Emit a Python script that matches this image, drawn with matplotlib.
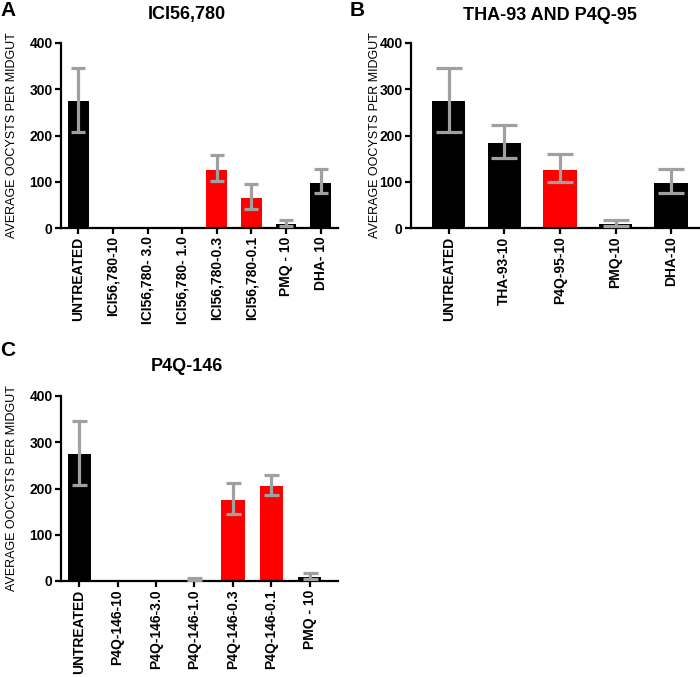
import numpy as np
import matplotlib
matplotlib.use("Agg")
import matplotlib.pyplot as plt

plt.rcParams['font.family'] = ['Liberation Sans', 'DejaVu Sans']

# panel A
a_labels = ['UNTREATED', 'ICI56,780-10', 'ICI56,780- 3.0', 'ICI56,780- 1.0',
            'ICI56,780-0.3', 'ICI56,780-0.1', 'PMQ - 10', 'DHA- 10']
a_means = [275, 0, 0, 0, 125, 65, 9, 98]
a_err_lo = [67, 0, 0, 0, 24, 23, 4, 22]
a_err_hi = [72, 0, 0, 0, 32, 30, 8, 30]
a_colors = ['black', 'black', 'black', 'black', 'red', 'red', 'black', 'black']

# panel B
b_labels = ['UNTREATED', 'THA-93-10', 'P4Q-95-10', 'PMQ-10', 'DHA-10']
b_means = [275, 183, 125, 9, 98]
b_err_lo = [67, 32, 26, 4, 22]
b_err_hi = [72, 40, 34, 9, 30]
b_colors = ['black', 'black', 'red', 'black', 'black']

# panel C
c_labels = ['UNTREATED', 'P4Q-146-10', 'P4Q-146-3.0', 'P4Q-146-1.0',
            'P4Q-146-0.3', 'P4Q-146-0.1', 'PMQ - 10']
c_means = [275, 0, 0, 1, 175, 205, 9]
c_err_lo = [67, 0, 0, 1, 30, 20, 4]
c_err_hi = [72, 0, 0, 6, 36, 25, 9]
c_colors = ['black', 'black', 'black', 'black', 'red', 'red', 'black']

W, H = 700, 677
fig = plt.figure(figsize=(W / 100, H / 100), dpi=100)


def panel(rect, labels, means, lo, hi, colors, title, letter, xlim, capsize,
          title_xy, letter_xy, ylab_px):
    ax = fig.add_axes(rect)
    x = np.arange(len(labels))
    ax.bar(x, means, width=0.6, color=colors, edgecolor='none', zorder=2)
    # only draw error bars where there is something to show
    m = np.array([(mv > 0 or h > 0) for mv, h in zip(means, hi)])
    ax.errorbar(x[m], np.array(means)[m],
                yerr=[np.array(lo)[m], np.array(hi)[m]],
                fmt='none', ecolor='#a0a0a0', elinewidth=2.3, capsize=capsize,
                capthick=2.3, zorder=3)
    ax.set_ylim(0, 400)
    ax.set_xlim(*xlim)
    ax.set_yticks([0, 100, 200, 300, 400])
    ax.set_xticks(x)
    ax.set_xticklabels(labels, rotation=90, fontsize=10, fontweight='bold')
    for t in ax.get_yticklabels():
        t.set_fontweight('bold')
        t.set_fontsize(10)
    for s in ['top', 'right']:
        ax.spines[s].set_visible(False)
    for s in ['left', 'bottom']:
        ax.spines[s].set_linewidth(1.6)
    ax.tick_params(width=1.6, length=4, direction='out', pad=2)
    ax.set_ylabel('AVERAGE OOCYSTS PER MIDGUT', fontsize=9)
    wpx = rect[2] * W
    ax.yaxis.set_label_coords(-ylab_px / wpx, 0.5)
    fig.text(title_xy[0], title_xy[1], title, fontsize=13, fontweight='bold',
             ha='center', va='center')
    fig.text(letter_xy[0], letter_xy[1], letter, fontsize=15,
             fontweight='bold', ha='left', va='center')
    return ax


panel([61 / W, 1 - 228 / H, 277 / W, 185 / H], a_labels, a_means, a_err_lo,
      a_err_hi, a_colors, 'ICI56,780', 'A', (-0.5, 7.5), 5.0,
      (187 / W, 1 - 15 / H), (0.0, 1 - 11 / H), 43)
panel([411 / W, 1 - 228 / H, 289 / W, 185 / H], b_labels, b_means, b_err_lo,
      b_err_hi, b_colors, 'THA-93 AND P4Q-95', 'B', (-0.68, 4.52), 9.4,
      (550 / W, 1 - 15 / H), (350 / W, 1 - 11 / H), 30)
panel([61 / W, 1 - 581 / H, 277 / W, 185 / H], c_labels, c_means, c_err_lo,
      c_err_hi, c_colors, 'P4Q-146', 'C', (-0.47, 6.73), 5.4,
      (187 / W, 1 - 367 / H), (0.0, 1 - 351 / H), 43)

fig.savefig('out.png', dpi=100)
